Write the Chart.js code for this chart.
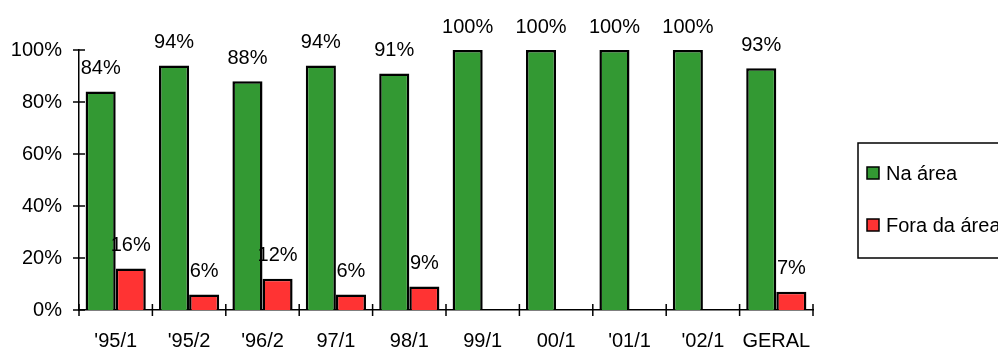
<!DOCTYPE html>
<html>
<head>
<meta charset="utf-8">
<script src="https://cdn.jsdelivr.net/npm/chart.js@4"></script>
<style>
  html, body { margin: 0; padding: 0; background: #fff; }
  #wrap { width: 998px; height: 349px; }
</style>
</head>
<body>
<div id="wrap"><canvas id="grafico"></canvas></div>
<script>
// dados
const categorias = ["'95/1", "'95/2", "'96/2", "97/1", "98/1", "99/1", "00/1", "'01/1", "'02/1", "GERAL"];
const naArea = [84, 94, 88, 94, 91, 100, 100, 100, 100, 93];
const foraArea = [16, 6, 12, 6, 9, null, null, null, null, 7];
const yTicks = [0, 20, 40, 60, 80, 100];

const FONTE = '"Liberation Sans", Arial, sans-serif';

// rótulos de valor acima das barras
const rotulos = {
    id: 'rotulos',
    afterDatasetsDraw(chart) {
        const ctx = chart.ctx;
        ctx.save();
        ctx.font = '20px ' + FONTE;
        ctx.fillStyle = '#000';
        ctx.textAlign = 'center';
        ctx.textBaseline = 'middle';
        chart.data.datasets.forEach((ds, i) => {
            chart.getDatasetMeta(i).data.forEach((bar, j) => {
                if (ds.data[j] == null) return;
                ctx.fillText(ds.data[j] + '%', bar.x, bar.y - 23);
            });
        });
        ctx.restore();
    }
};

// marcas dos eixos cruzando a linha
const marcas = {
    id: 'marcas',
    afterDraw(chart) {
        const ctx = chart.ctx;
        const y = chart.scales.y;
        const a = chart.chartArea;
        ctx.save();
        ctx.strokeStyle = '#000';
        ctx.lineWidth = 1.5;
        ctx.beginPath();
        yTicks.forEach(v => {
            const py = y.getPixelForValue(v);
            ctx.moveTo(a.left - 6, py);
            ctx.lineTo(a.left + 6, py);
        });
        const w = (a.right - a.left) / categorias.length;
        for (let i = 0; i <= categorias.length; i++) {
            const px = a.left + i * w;
            ctx.moveTo(px, a.bottom - 6);
            ctx.lineTo(px, a.bottom + 6);
        }
        ctx.stroke();
        ctx.restore();
    }
};

// legenda à direita (cortada na borda)
const legenda = {
    id: 'legenda',
    afterDraw(chart) {
        const ctx = chart.ctx;
        ctx.save();
        ctx.strokeStyle = '#000';
        ctx.lineWidth = 1.5;
        ctx.strokeRect(858, 143, 160, 115);
        ctx.font = '20px ' + FONTE;
        ctx.textBaseline = 'middle';
        ctx.textAlign = 'left';
        const ys = [173, 225];
        chart.data.datasets.forEach((ds, i) => {
            ctx.fillStyle = ds.backgroundColor;
            ctx.fillRect(867, ys[i] - 6, 12, 12);
            ctx.strokeStyle = '#000';
            ctx.lineWidth = 1.5;
            ctx.strokeRect(867, ys[i] - 6, 12, 12);
            ctx.fillStyle = '#000';
            ctx.fillText(ds.label, 886, ys[i] + 1);
        });
        ctx.restore();
    }
};

new Chart(document.getElementById('grafico'), {
    type: 'bar',
    data: {
        labels: categorias,
        datasets: [
            { label: 'Na área', data: naArea, backgroundColor: '#339933', borderColor: '#000', borderWidth: 2.5 },
            { label: 'Fora da área', data: foraArea, backgroundColor: '#ff3333', borderColor: '#000', borderWidth: 2.5 }
        ]
    },
    options: {
        responsive: true,
        maintainAspectRatio: false,
        animation: false,
        layout: { padding: { top: 50, right: 185, left: 0, bottom: 0 } },
        datasets: { bar: { categoryPercentage: 0.82, barPercentage: 1.0 } },
        plugins: {
            legend: { display: false },
            tooltip: { enabled: false }
        },
        scales: {
            x: {
                grid: { display: false, drawTicks: false },
                border: { display: true, color: '#000', width: 1.5 },
                ticks: { color: '#000', font: { family: FONTE, size: 20 }, padding: 19, maxRotation: 0 },
                afterFit(s) { s.height = 39; }
            },
            y: {
                min: 0, max: 100,
                afterBuildTicks(s) { s.ticks = yTicks.map(v => ({ value: v })); },
                grid: { display: false, drawTicks: false },
                border: { display: true, color: '#000', width: 1.5 },
                ticks: { color: '#000', font: { family: FONTE, size: 20 }, padding: 17, callback: v => v + '%' },
                afterFit(s) { s.width = 79; }
            }
        }
    },
    plugins: [rotulos, marcas, legenda]
});
</script>
</body>
</html>
